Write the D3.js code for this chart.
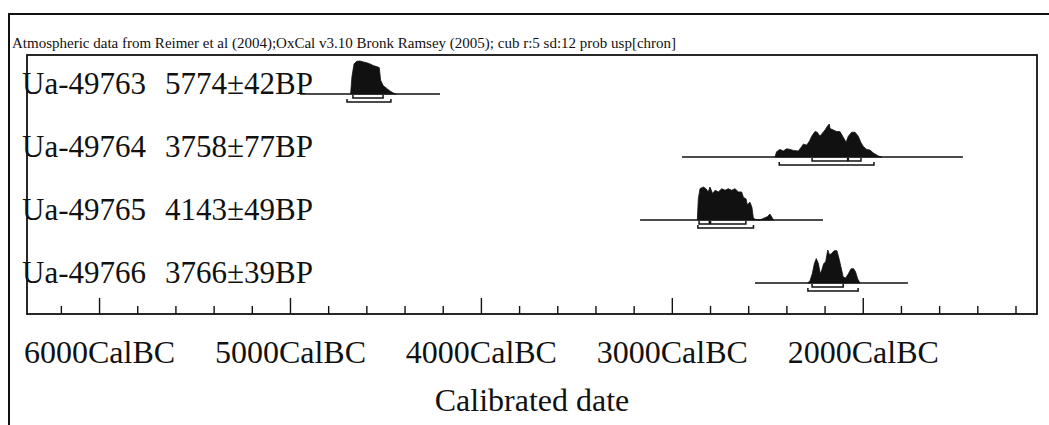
<!DOCTYPE html>
<html>
<head>
<meta charset="utf-8">
<script src="https://cdn.jsdelivr.net/npm/d3@7"></script>
<style>
  html, body { margin: 0; padding: 0; background: #fff; }
  svg { display: block; }
  text { font-family: "Liberation Serif", "Times New Roman", serif; fill: #111; }
</style>
</head>
<body>
<div id="graphic"></div>
<script>
// Title line printed by OxCal
var titleText = "Atmospheric data from Reimer et al (2004);OxCal v3.10 Bronk Ramsey (2005); cub r:5 sd:12 prob usp[chron]";

// Samples (one row each)
var sampleNames = ["Ua-49763", "Ua-49764", "Ua-49765", "Ua-49766"];
var sampleDates = ["5774±42BP", "3758±77BP", "4143±49BP", "3766±39BP"];

// Calibrated probability curves (years BC, relative probability)
var years49763 = [4685, 4678, 4667, 4653, 4636, 4618, 4601, 4583, 4566, 4549, 4535, 4528, 4514, 4496, 4479, 4458, 4447];
var prob49763  = [0, .53, .91, .99, 1, .97, .95, .91, .86, .83, .80, .42, .25, .17, .09, .02, 0];

var years49764 = [2462, 2454, 2436, 2419, 2401, 2384, 2366, 2340, 2322, 2314, 2296, 2282, 2270, 2253, 2241, 2227, 2213, 2200, 2188, 2178, 2174, 2157, 2139, 2122, 2104, 2090, 2078, 2061, 2043, 2026, 2013, 2000, 1982, 1965, 1947, 1921, 1903];
var prob49764  = [0, .16, .23, .18, .25, .23, .20, .18, .32, .39, .36, .48, .63, .77, .75, .63, .73, .82, .93, 1, .86, .82, .77, .77, .59, .45, .63, .75, .75, .63, .45, .32, .23, .21, .12, .03, 0];

var years49765 = [2869, 2864, 2855, 2838, 2824, 2812, 2803, 2789, 2776, 2759, 2741, 2724, 2707, 2689, 2672, 2654, 2637, 2628, 2614, 2607, 2593, 2583, 2576, 2567, 2541, 2503, 2489, 2474, 2468];
var prob49765  = [0, .64, .95, 1, .95, .85, 1, .80, .90, .85, .95, .90, .95, .90, .95, .85, .85, .69, .64, .46, .54, .38, .07, .02, 0, .10, .18, .04, 0];

var years49766 = [2291, 2279, 2267, 2256, 2246, 2235, 2225, 2218, 2207, 2197, 2186, 2176, 2165, 2152, 2138, 2127, 2117, 2105, 2092, 2078, 2064, 2050, 2040, 2029, 2017];
var prob49766  = [0, .07, .28, .59, .74, .59, .28, .38, .59, .64, 1, .85, .90, .98, .98, .74, .49, .18, .15, .28, .43, .43, .33, .12, 0];

// Extent of the calibration curve line under each distribution (BC)
var lineRanges = [[4950, 4217], [2949, 1478], [3169, 2211], [2567, 1766]];
// 68.2% and 95.4% ranges (BC)
var sigma1Ranges = [[[4673, 4515]], [[2268, 2082], [2078, 2012]], [[2860, 2806], [2800, 2615]], [[2268, 2105]]];
var sigma2Ranges = [[[4704, 4474]], [[2440, 1944]], [[2866, 2575]], [[2290, 2027]]];

// Axis
var majorTicks = [6000, 5000, 4000, 3000, 2000];
var tickLabels = ["6000CalBC", "5000CalBC", "4000CalBC", "3000CalBC", "2000CalBC"];
var minorTicks = [6200, 5800, 5600, 5400, 5200, 4800, 4600, 4400, 4200, 3800, 3600, 3400, 3200, 2800, 2600, 2400, 2200, 1800, 1600, 1400, 1200];
var axisTitle = "Calibrated date";

(function() {
  var W = 1049, H = 425;
  var frame = { left: 27, right: 1037, top: 55, bottom: 314 };

  var curves = [
    { years: years49763, prob: prob49763 },
    { years: years49764, prob: prob49764 },
    { years: years49765, prob: prob49765 },
    { years: years49766, prob: prob49766 }
  ];

  // years BC run left (older) to right (younger)
  var x = d3.scaleLinear().domain([6380, 1090]).range([frame.left, frame.right]);
  var rowY = d3.scalePoint().domain(sampleNames).range([94, 283]);
  var h = d3.scaleLinear().domain([0, 1]).range([0, 33]);

  var svg = d3.select("#graphic").append("svg")
      .attr("width", W)
      .attr("height", H);

  svg.append("rect").attr("width", W).attr("height", H).attr("fill", "#fff");

  // outer border of the printed figure
  svg.append("path")
    .attr("d", "M9," + H + "V14H" + W)
    .attr("fill", "none")
    .attr("stroke", "#111")
    .attr("stroke-width", 2);

  svg.append("text")
    .attr("x", 12)
    .attr("y", 48)
    .attr("font-size", 15)
    .text(titleText);

  // plot frame
  svg.append("rect")
    .attr("x", frame.left)
    .attr("y", frame.top)
    .attr("width", frame.right - frame.left)
    .attr("height", frame.bottom - frame.top)
    .attr("fill", "none")
    .attr("stroke", "#111")
    .attr("stroke-width", 1.8);

  // axis ticks point upward from the frame bottom
  var axis = svg.append("g").attr("class", "axis");
  axis.selectAll("line.minor")
    .data(minorTicks)
    .enter().append("line")
      .attr("class", "minor")
      .attr("x1", function(d) { return x(d); })
      .attr("x2", function(d) { return x(d); })
      .attr("y1", frame.bottom)
      .attr("y2", frame.bottom - 8)
      .attr("stroke", "#111")
      .attr("stroke-width", 1.4);

  axis.selectAll("line.major")
    .data(majorTicks)
    .enter().append("line")
      .attr("class", "major")
      .attr("x1", function(d) { return x(d); })
      .attr("x2", function(d) { return x(d); })
      .attr("y1", frame.bottom)
      .attr("y2", frame.bottom - 16)
      .attr("stroke", "#111")
      .attr("stroke-width", 1.4);

  axis.selectAll("text.tick")
    .data(majorTicks)
    .enter().append("text")
      .attr("class", "tick")
      .attr("x", function(d) { return x(d); })
      .attr("y", 363)
      .attr("text-anchor", "middle")
      .attr("font-size", 32)
      .text(function(d, i) { return tickLabels[i]; });

  svg.append("text")
    .attr("x", 532)
    .attr("y", 411)
    .attr("text-anchor", "middle")
    .attr("font-size", 32)
    .text(axisTitle);

  // one group per sample
  var rows = svg.append("g").attr("class", "rows")
    .selectAll("g.row")
      .data(sampleNames)
    .enter().append("g")
      .attr("class", "row")
      .attr("transform", function(d) { return "translate(0," + rowY(d) + ")"; });

  rows.append("text")
    .attr("x", 22)
    .attr("y", 0)
    .attr("font-size", 31)
    .text(function(d) { return d; });

  rows.append("text")
    .attr("x", 165)
    .attr("y", 0)
    .attr("font-size", 31)
    .text(function(d, i) { return sampleDates[i]; });

  rows.append("line")
    .attr("x1", function(d, i) { return x(lineRanges[i][0]); })
    .attr("x2", function(d, i) { return x(lineRanges[i][1]); })
    .attr("stroke", "#111")
    .attr("stroke-width", 1.6);

  var area = d3.area()
    .x(function(d) { return x(d[0]); })
    .y0(0)
    .y1(function(d) { return -h(d[1]); });

  rows.append("path")
    .attr("d", function(d, i) {
      return area(d3.zip(curves[i].years, curves[i].prob));
    })
    .attr("fill", "#111")
    .attr("stroke", "#111")
    .attr("stroke-width", 0.8);

  // range brackets: short upturned ends
  function bracket(sel, ranges, offset) {
    sel.selectAll("path.range" + offset)
      .data(function(d, i) { return ranges[i]; })
      .enter().append("path")
        .attr("class", "range" + offset)
        .attr("d", function(r) {
          return "M" + x(r[0]) + "," + (offset - 3) + "V" + offset + "H" + x(r[1]) + "V" + (offset - 3);
        })
        .attr("fill", "none")
        .attr("stroke", "#111")
        .attr("stroke-width", 1.5);
  }
  bracket(rows, sigma1Ranges, 4);
  bracket(rows, sigma2Ranges, 8);
})();
</script>
</body>
</html>
